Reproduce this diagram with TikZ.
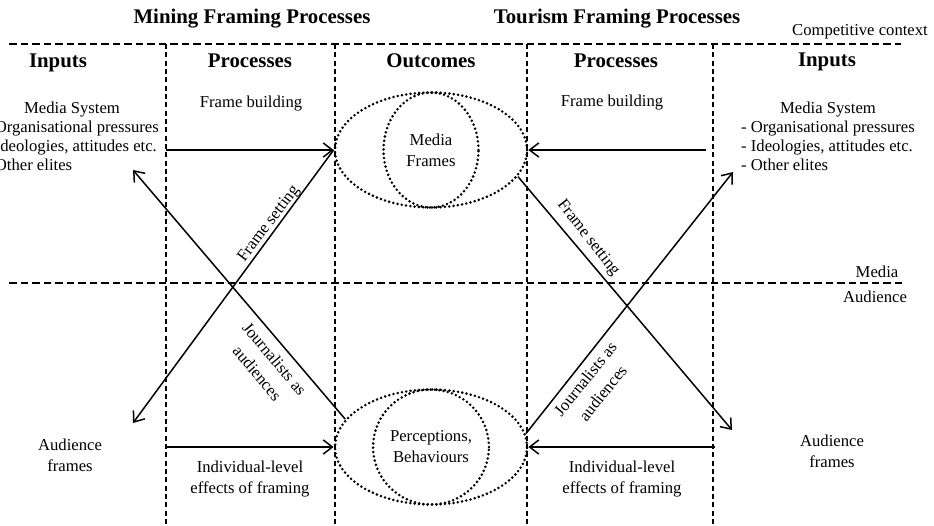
\documentclass[tikz,border=0pt]{standalone}
\usepackage{fontspec}
\setmainfont{Liberation Serif}
\usetikzlibrary{arrows.meta,shapes.geometric}

\tikzset{
	dashline/.style={line width=0.9pt, dash pattern=on 4.5pt off 2.4pt},
	vdashline/.style={line width=0.8pt, dash pattern=on 3pt off 2pt},
	dotring/.style={draw, ellipse, line width=1.7pt, dash pattern=on 0pt off 2.6pt, line cap=round, inner sep=0pt, minimum height=69pt},
	arrowline/.style={line width=0.9pt, -{Straight Barb[length=5.5pt,width=8.5pt]}},
	hdr/.style={font=\fontsize{12.5}{15}\selectfont\bfseries, inner sep=0pt},
	txt/.style={font=\fontsize{10}{12.6}\selectfont, align=center, inner sep=0pt},
	slant/.style={font=\fontsize{10}{13.5}\selectfont, align=center, inner sep=0pt},
}

\begin{document}
\begin{tikzpicture}[x=0.6pt, y=-0.6pt]
		%%%%% START %%%%%
		\useasboundingbox (0,0) rectangle (934,525);
		
		\draw[dashline] (9,44) -- (901,44);
		\draw[dashline] (9,283) -- (902,283);
		\draw[vdashline] (166,44) -- (166,525);
		\draw[vdashline] (335,44) -- (335,525);
		\draw[vdashline] (527,44) -- (527,525);
		\draw[vdashline] (713,44) -- (713,525);
		
		\node[hdr] (mining) at (252,19) {Mining Framing Processes};
		\node[hdr] (tourism) at (617,19) {Tourism Framing Processes};
		\node[txt] (compet) at (860,32) {Competitive context};
		
		\node[hdr] (inL) at (58,63) {Inputs};
		\node[hdr] (procL) at (250,61) {Processes};
		\node[hdr] (outc) at (431,61) {Outcomes};
		\node[hdr] (procR) at (616,61) {Processes};
		\node[hdr] (inR) at (827,62) {Inputs};
		
		\node[txt] (fbL) at (251,104) {Frame building};
		\node[txt] (fbR) at (612,103) {Frame building};
		
		\node[txt, font=\fontsize{10}{11.4}\selectfont] (sysL) at (72,138) {\begin{tabular}{@{}l@{}}\multicolumn{1}{@{}c@{}}{Media System}\\- Organisational pressures\\- Ideologies, attitudes etc.\\- Other elites\end{tabular}};
		\node[txt, font=\fontsize{10}{11.4}\selectfont] (sysR) at (828,138) {\begin{tabular}{@{}l@{}}\multicolumn{1}{@{}c@{}}{Media System}\\- Organisational pressures\\- Ideologies, attitudes etc.\\- Other elites\end{tabular}};
		
		\node[txt] (media) at (877,272) {Media};
		\node[txt] (aud) at (875,297) {Audience};
		
		\node[txt] (afL) at (70,455) {Audience\\frames};
		\node[txt] (afR) at (832,451) {Audience\\frames};
		\node[txt] (ilL) at (250,479) {Individual-level\\effects of framing};
		\node[txt] (ilR) at (622,479) {Individual-level\\effects of framing};
		
		% outcome rings
		\node[dotring, minimum width=115.2pt] (mfo) at (431,150) {};
		\node[dotring, minimum width=57pt, txt] (mfi) at (431,150) {Media\\Frames};
		\node[dotring, minimum width=115.2pt] (pbo) at (431,447) {};
		\node[dotring, minimum width=58pt, txt] (pbi) at (431,447) {Perceptions,\\Behaviours};
		
		\coordinate (fbLs) at (166,150);
		\coordinate (fbRs) at (706,150);
		\coordinate (ilLs) at (166,447);
		\coordinate (ilRs) at (715,447);
		\coordinate (fsLe) at (133,423);
		\coordinate (jaLe) at (133,170);
		\coordinate (fsRe) at (732,430);
		\coordinate (jaRe) at (733,172);
		
		\draw[arrowline] (fbLs) -- (mfo.west);
		\draw[arrowline] (fbRs) -- (mfo.east);
		\draw[arrowline] (ilLs) -- (pbo.west);
		\draw[arrowline] (ilRs) -- (pbo.east);
		
		\draw[arrowline] (mfo.west) -- (fsLe);
		\draw[arrowline] (pbo.162) -- (jaLe);
		\draw[arrowline] (mfo.-17) -- (fsRe);
		\draw[arrowline] (pbo.8) -- (jaRe);
		
		\node[slant, rotate=53] (fsL) at (269,224) {Frame setting};
		\node[slant, rotate=-50] (jaL) at (266,366) {Journalists as\\audiences};
		\node[slant, rotate=-52] (fsR) at (588,238) {Frame setting};
		\node[slant, rotate=51] (jaR) at (594,386) {Journalists as\\audiences};
		
		%%%%% END %%%%%
\end{tikzpicture}
\end{document}
